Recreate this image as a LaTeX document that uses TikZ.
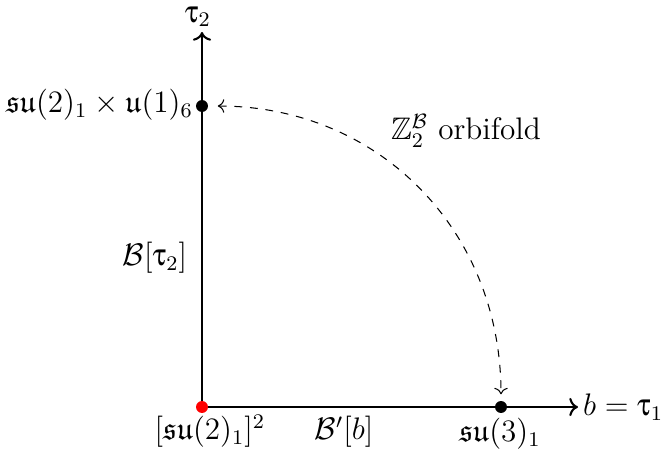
\documentclass[tikz,border=0pt]{standalone}
\usepackage{amsmath,amssymb,amsfonts}
\usepackage[Symbol]{upgreek}
\usetikzlibrary{arrows.meta,positioning,calc}
\tikzset{
  axis/.style={->, line width=0.8pt, black},
  pt/.style={circle, fill=black, inner sep=0pt, minimum size=4.6pt},
  lbl/.style={inner sep=1pt, font=\large, align=center}
}

\begin{document}
\begin{tikzpicture}[x=0.01353cm, y=-0.01353cm,
    orb/.style={<->, dashed, line width=0.4pt, shorten <=3.6pt, shorten >=2.4pt}
  ]
    \useasboundingbox (0,0) rectangle (669,457);
    % axes
    \coordinate (o) at (202,407);
    \coordinate (ytip) at (202,32);
    \coordinate (xtip) at (578,407);
    \draw[axis] (o) -- (ytip);
    \draw[axis] (o) -- (xtip);
    \node[lbl, anchor=south] (tau2) at (198,30) {$\uptau_2$};
    \node[lbl, anchor=west] (btau) at (580,407) {$b = \uptau_1$};

    % special points
    \node[pt] (top) at (202,106) {};
    \node[pt] (rgt) at (501,407) {};
    \node[pt, fill=red] (orig) at (o) {};

    \node[lbl, anchor=east] (toplbl) at (196,105) {$\mathfrak{su}(2)_1 \times \mathfrak{u}(1)_6$};
    \node[lbl] (rgtlbl) at (500,434) {$\mathfrak{su}(3)_1$};
    \node[lbl] (origlbl) at (210,431) {$[\mathfrak{su}(2)_1]^2$};

    % boundaries
    \node[lbl] (bvert) at (155,258) {$\mathcal{B}[\uptau_2]$};
    \node[lbl] (bhor) at (344,432) {$\mathcal{B}'[b]$};

    % orbifold map
    \draw[orb] (top) to[out=0, in=90, looseness=1.05] (rgt);
    \node[lbl] (orblbl) at (466,131) {$\mathbb{Z}_2^{\mathcal{B}}$ orbifold};
  \end{tikzpicture}
\end{document}
